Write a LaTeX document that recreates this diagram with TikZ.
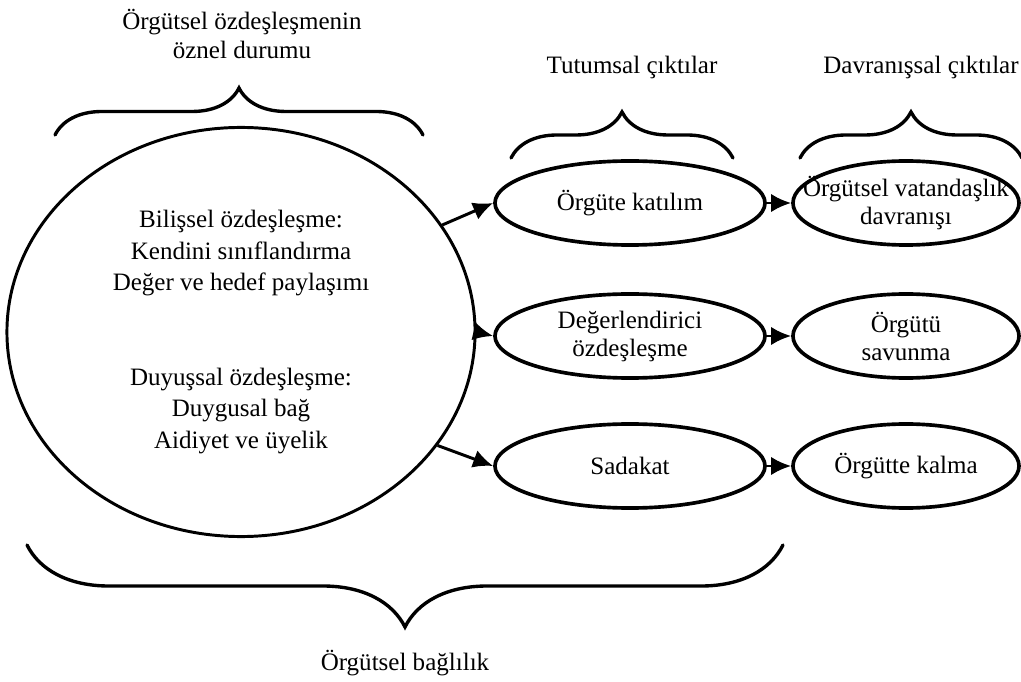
\documentclass[tikz,border=0pt]{standalone}
\usepackage{fontspec}
\setmainfont{Liberation Serif}
\usepackage{tikz}
\usetikzlibrary{shapes, arrows.meta, decorations.pathreplacing}
\tikzstyle{identity} = [ellipse, draw, line width=2.1pt, inner sep=0pt,
    minimum width=11.7cm, minimum height=10.225cm, align=center,
    font=\fontsize{17.8}{22.4}\selectfont]
\tikzstyle{attitude} = [ellipse, draw, line width=2.6pt, inner xsep=-1cm, inner ysep=0pt,
    minimum width=6.75cm, minimum height=2.1cm, align=center,
    font=\fontsize{17.8}{19.9}\selectfont]
\tikzstyle{behaviour} = [attitude, minimum width=5.65cm]
\tikzstyle{caption} = [align=center, font=\fontsize{17.8}{20.6}\selectfont]
\tikzstyle{line} = [draw, line width=2.1pt, -{Latex[length=5mm, width=4.6mm]}]
\tikzstyle{curly} = [draw, line width=2.4pt, line cap=round, decorate]

\begin{document}
\begin{tikzpicture}[x=0.025cm, y=-0.025cm]
    \useasboundingbox (0,0) rectangle (1021,682);

    % Nodes
    \node [identity] (durum) at (241,332) {Bilişsel özdeşleşme:\\ Kendini sınıflandırma\\ Değer ve hedef paylaşımı\\[44.8pt] Duyuşsal özdeşleşme:\\ Duygusal bağ\\ Aidiyet ve üyelik};
    \node [attitude] (katilim) at (630,203) {Örgüte katılım};
    \node [attitude] (degerlendirici) at (630,336) {Değerlendirici\\ özdeşleşme};
    \node [attitude] (sadakat) at (630,466) {Sadakat};
    \node [behaviour] (vatandaslik) at (906,203) {Örgütsel vatandaşlık\\ davranışı};
    \node [behaviour] (savunma) at (906,336) {Örgütü\\ savunma};
    \node [behaviour] (kalma) at (906,466) {Örgütte kalma};

    % Captions
    \node [caption] (durumbaslik) at (242,34) {Örgütsel özdeşleşmenin\\ öznel durumu};
    \node [caption] (tutumsal) at (632,67) {Tutumsal çıktılar};
    \node [caption] (davranissal) at (921,67) {Davranışsal çıktılar};
    \node [caption] (baglilik) at (405,663) {Örgütsel bağlılık};

    % Braces
    \coordinate (ozL) at (55,135);
    \coordinate (ozR) at (423,135);
    \coordinate (tuL) at (511,158);
    \coordinate (tuR) at (733,158);
    \coordinate (daL) at (800,158);
    \coordinate (daR) at (1022,158);
    \coordinate (baL) at (27,545);
    \coordinate (baR) at (783,545);
    \path [curly, decoration={brace, amplitude=1.175cm}] (ozL) -- (ozR);
    \path [curly, decoration={brace, amplitude=1.15cm}] (tuL) -- (tuR);
    \path [curly, decoration={brace, amplitude=1.15cm}] (daL) -- (daR);
    \path [curly, decoration={brace, amplitude=2.05cm}] (baR) -- (baL);

    % Edges
    \path [line] (durum.28.7) -- (katilim.west);
    \path [line] (durum.east) -- (degerlendirici.west);
    \path [line] (durum.-30) -- (sadakat.west);
    \path [line] (katilim) -- (vatandaslik);
    \path [line] (degerlendirici) -- (savunma);
    \path [line] (sadakat) -- (kalma);

\end{tikzpicture}
\end{document}
